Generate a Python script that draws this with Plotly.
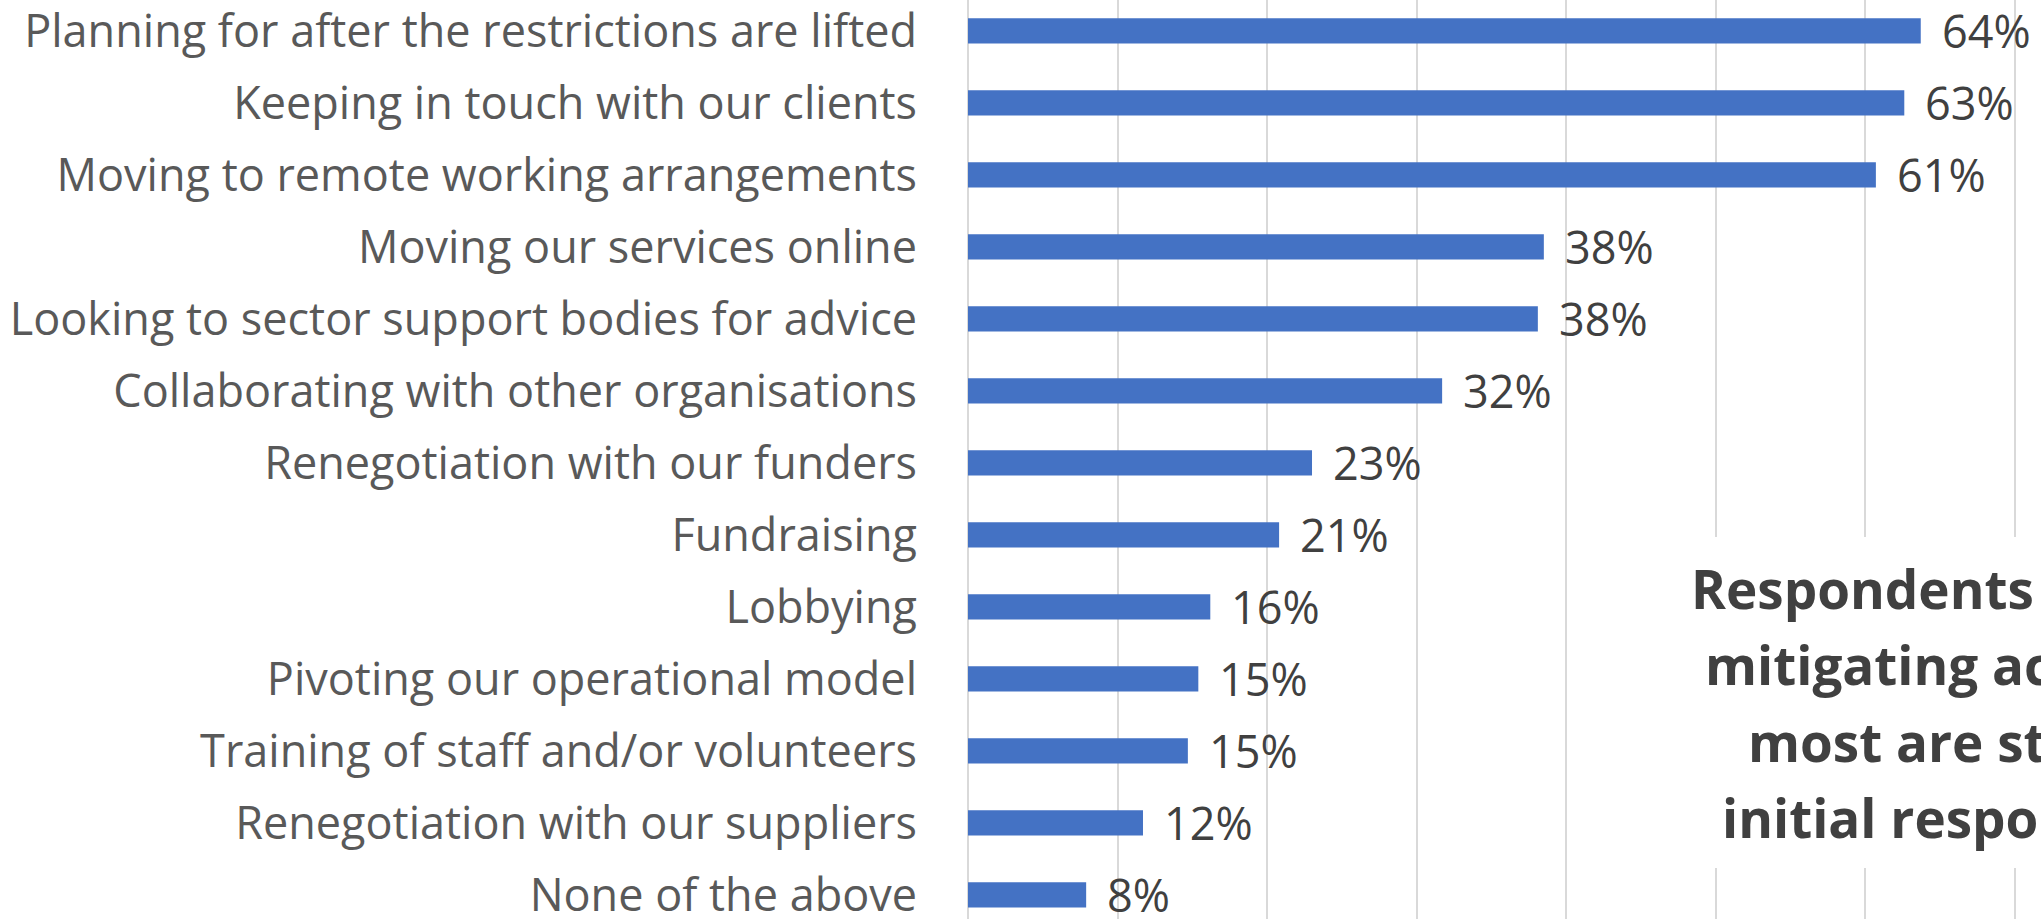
import plotly.graph_objects as go

categories = [
    "Planning for after the restrictions are lifted",
    "Keeping in touch with our clients",
    "Moving to remote working arrangements",
    "Moving our services online",
    "Looking to sector support bodies for advice",
    "Collaborating with other organisations",
    "Renegotiation with our funders",
    "Fundraising",
    "Lobbying",
    "Pivoting our operational model",
    "Training of staff and/or volunteers",
    "Renegotiation with our suppliers",
    "None of the above",
]
values = [63.7, 62.6, 60.7, 38.5, 38.1, 31.7, 23.0, 20.8, 16.2, 15.4, 14.7, 11.7, 7.9]
value_labels = ["64%", "63%", "61%", "38%", "38%", "32%", "23%", "21%", "16%", "15%", "15%", "12%", "8%"]
callout_lines = [
    "Respondents are taking",
    "mitigating actions, but",
    "most are still in the",
    "initial response phase",
]

W, H = 2041, 919
L = 968
FONT = "Open Sans, Lato, sans-serif"

fig = go.Figure()
fig.add_trace(go.Bar(
    x=values, y=categories, orientation="h",
    marker=dict(color="#4472C4", line=dict(width=0)),
    width=0.35, hoverinfo="skip",
))

for v, c, t in zip(values, categories, value_labels):
    fig.add_annotation(x=v, y=c, text=t, xanchor="left", yanchor="middle",
                       xshift=19, showarrow=False,
                       font=dict(family=FONT, size=45, color="#404040"))


def px_x(p):
    return (p - L) / (W - L)


def px_y(p):
    return 1 - p / H


# white callout box covering the gridlines
fig.add_shape(type="rect", xref="paper", yref="paper",
              x0=px_x(1650), x1=1.2, y0=px_y(868), y1=px_y(537),
              fillcolor="white", line=dict(width=0), layer="above")

line_lefts = [1693, 1707, 1750, 1724]
line_baselines = [609, 685, 762, 838]
for txt, lx, by in zip(callout_lines, line_lefts, line_baselines):
    fig.add_annotation(xref="paper", yref="paper", x=px_x(lx), y=px_y(by - 20.5),
                       text="<b>" + txt + "</b>", xanchor="left", yanchor="middle",
                       showarrow=False, xshift=-4,
                       font=dict(family=FONT, size=53, color="#404040"))

fig.update_layout(
    width=W, height=H,
    margin=dict(l=L, r=0, t=0, b=0),
    paper_bgcolor="white", plot_bgcolor="white",
    showlegend=False,
    xaxis=dict(range=[0, 71.74], dtick=10, showgrid=True, gridcolor="#D9D9D9", gridwidth=2,
               zeroline=True, zerolinecolor="#D9D9D9", zerolinewidth=2,
               showticklabels=False, ticks=""),
    yaxis=dict(range=[12.336, -0.428], showgrid=False, zeroline=False,
               tickfont=dict(family=FONT, size=45, color="#595959"),
               ticks="", ticklabelstandoff=50, automargin=False),
)

fig.write_html("out.html",
               config={"displayModeBar": False},
               post_script="document.body.style.margin='0';document.body.style.overflow='hidden';")
